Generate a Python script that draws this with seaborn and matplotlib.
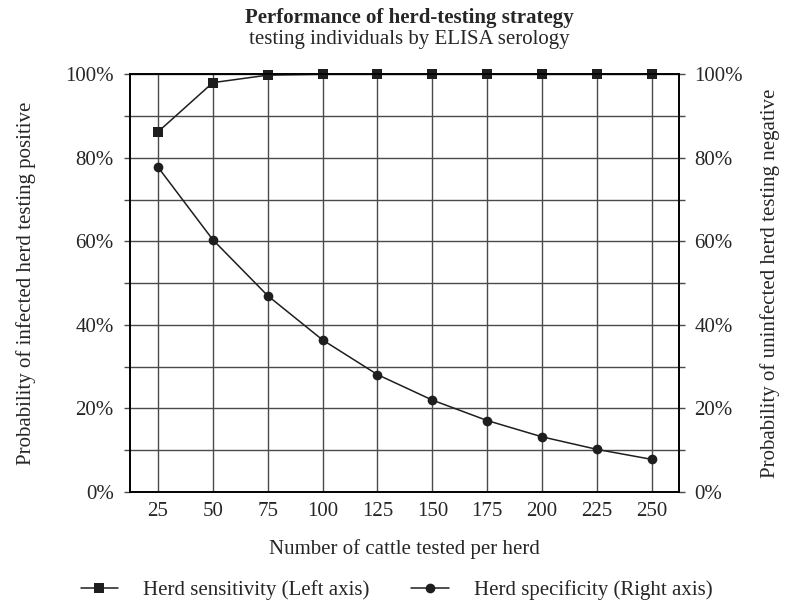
import matplotlib
matplotlib.use("Agg")
import matplotlib.pyplot as plt
import matplotlib.ticker as mticker
from matplotlib.lines import Line2D
import pandas as pd
import seaborn as sns

# values
cattle_tested = [25, 50, 75, 100, 125, 150, 175, 200, 225, 250]
herd_sensitivity = [86.2, 98.0, 99.8, 100.0, 100.0, 100.0, 100.0, 100.0, 100.0, 100.0]
herd_specificity = [77.8, 60.4, 47.0, 36.4, 28.1, 22.0, 17.1, 13.2, 10.2, 7.8]
y_ticks = [0, 20, 40, 60, 80, 100]

df = pd.DataFrame({
    "cattle": cattle_tested,
    "sensitivity": herd_sensitivity,
    "specificity": herd_specificity,
})

sns.set_theme(style="white")
plt.rcParams["font.family"] = ["Liberation Serif", "DejaVu Serif"]
fs = 15

fig = plt.figure(figsize=(7.85, 6.11), dpi=100)
ax = fig.add_axes([0.1662, 0.1948, 0.6992, 0.6836])
ax2 = ax.twinx()

line_col = "#1e1e1e"
grid_col = "#4a4a4a"

sns.lineplot(data=df, x="cattle", y="sensitivity", ax=ax, color=line_col,
             marker="s", markersize=7.5, markeredgewidth=0, linewidth=1.1,
             clip_on=False, zorder=5)
sns.lineplot(data=df, x="cattle", y="specificity", ax=ax2, color=line_col,
             marker="o", markersize=7, markeredgewidth=0, linewidth=1.1,
             clip_on=False, zorder=5)

for a in (ax, ax2):
    a.set_ylim(0, 100)
    a.set_xlim(12.5, 262.5)
    a.yaxis.set_major_locator(mticker.FixedLocator(y_ticks))
    a.yaxis.set_minor_locator(mticker.MultipleLocator(10))
    a.yaxis.set_major_formatter(mticker.FuncFormatter(lambda v, p: f"{int(v)}%"))
    a.set_xlabel("")
    for s in a.spines.values():
        s.set_color("black")
        s.set_linewidth(1.2)

ax.set_xticks(cattle_tested)
ax.tick_params(axis="x", direction="out", length=6, width=1, color=grid_col,
               labelsize=fs, pad=1)
ax.tick_params(axis="y", which="both", direction="out", length=4, width=1,
               color=grid_col, labelsize=fs, pad=8)
ax2.tick_params(axis="y", which="both", direction="out", length=4, width=1,
                color=grid_col, labelsize=fs, pad=7)

ax.grid(True, which="major", axis="x", color=grid_col, linewidth=1.0)
ax.grid(True, which="both", axis="y", color=grid_col, linewidth=1.0)
ax.set_axisbelow(True)

ax.set_ylabel("Probability of infected herd testing positive", fontsize=fs, labelpad=21)
ax2.set_ylabel("Probability of uninfected herd testing negative", fontsize=fs, labelpad=12)
ax.set_xlabel("Number of cattle tested per herd", fontsize=fs, labelpad=13)

fig.text(0.522, 0.971, "Performance of herd-testing strategy", ha="center",
         va="center", fontsize=fs, fontweight="bold")
fig.text(0.522, 0.935, "testing individuals by ELISA serology", ha="center",
         va="center", fontsize=fs)

handles = [
    Line2D([], [], color=line_col, marker="s", markersize=7.5, markeredgewidth=0,
           linewidth=1.1),
    Line2D([], [], color=line_col, marker="o", markersize=7, markeredgewidth=0,
           linewidth=1.1),
]
labels = ["Herd sensitivity (Left axis)", "Herd specificity (Right axis)"]
fig.legend(handles, labels, loc="center", bbox_to_anchor=(0.505, 0.034), ncol=2,
           frameon=False, fontsize=fs, handlelength=1.8, handletextpad=1.2,
           columnspacing=2.0)

fig.savefig("out.png", dpi=100)
